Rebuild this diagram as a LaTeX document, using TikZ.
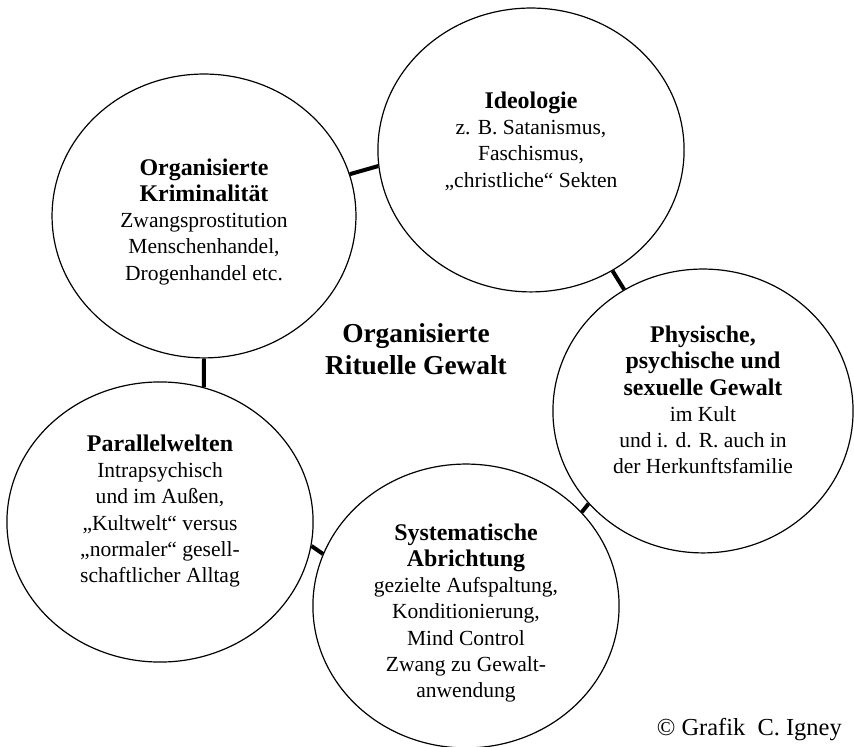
\documentclass[tikz,border=0pt]{standalone}
\usepackage{fontspec}
\setmainfont{Liberation Serif}
\usetikzlibrary{shapes.geometric}

\newcommand{\headline}[1]{{\fontsize{18}{20}\selectfont\bfseries #1}}

\begin{document}
\begin{tikzpicture}[
    ring/.style={ellipse, draw, line width=0.9pt, inner sep=0pt, minimum height=7.51cm},
    txt/.style={align=center, font=\fontsize{16.2}{19.8}\selectfont},
    title/.style={align=center, font=\fontsize{20.6}{24}\selectfont\bfseries},
    link/.style={line width=3pt}
]
\useasboundingbox (0,0) rectangle (22.593,19.762);
% rings
\node[ring, minimum width=8.04cm] (krim) at (5.397,14.048) {};
\node[ring, minimum width=8.10cm] (ideo) at (14.048,15.794) {};
\node[ring, minimum width=7.94cm] (gewalt) at (18.598,8.889) {};
\node[ring, minimum width=8.10cm] (abricht) at (12.328,3.730) {};
\node[ring, minimum width=8.10cm, minimum height=7.41cm] (parallel) at (4.233,5.952) {};
% texts
\node[txt, yshift=-0.15cm] (krimtxt) at (krim) {\headline{Organisierte}\\\headline{Kriminalität}\\Zwangsprostitution\\Menschenhandel,\\Drogenhandel etc.};
\node[txt, yshift=0.24cm] (ideotxt) at (ideo) {\headline{Ideologie}\\z. B. Satanismus,\\Faschismus,\\„christliche“ Sekten};
\node[txt, yshift=0.29cm] (gewalttxt) at (gewalt) {\headline{Physische,}\\\headline{psychische und}\\\headline{sexuelle Gewalt}\\im Kult\\und i. d. R. auch in\\der Herkunftsfamilie};
\node[txt, yshift=-0.185cm] (abrichttxt) at (abricht) {\headline{Systematische}\\\headline{Abrichtung}\\gezielte Aufspaltung,\\Konditionierung,\\Mind Control\\Zwang zu Gewalt-\\anwendung};
\node[txt, yshift=0.29cm] (paralleltxt) at (parallel) {\headline{Parallelwelten}\\Intrapsychisch\\und im Außen,\\„Kultwelt“ versus\\„normaler“ gesell-\\schaftlicher Alltag};
\node[title] (center) at (11.005,10.53) {Organisierte\\Rituelle Gewalt};
\node[anchor=east, inner sep=0pt, font=\fontsize{18.4}{21}\selectfont] (credit) at (22.275,0.45) {© Grafik\ \ C. Igney};
% links
\draw[link] (krim.16) -- (ideo.186);
\draw[link] (ideo.304) -- (gewalt.123);
\draw[link] (gewalt.219) -- (abricht.39.5);
\draw[link] (abricht.160) -- (parallel.351);
\draw[link] (parallel.72) -- (krim.270);
\end{tikzpicture}
\end{document}
